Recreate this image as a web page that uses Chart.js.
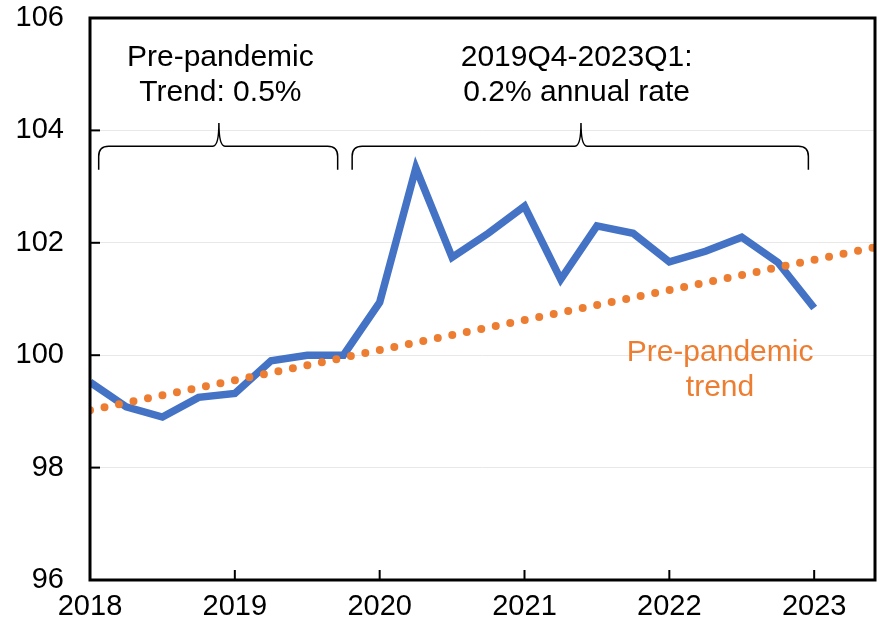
<!DOCTYPE html>
<html>
<head>
<meta charset="utf-8">
<script src="https://cdn.jsdelivr.net/npm/chart.js@4.4.1/dist/chart.umd.min.js"></script>
<style>
    body { margin: 0; background: #ffffff; }
    #wrap { width: 881px; height: 620px; }
</style>
</head>
<body>
<div id="wrap"><canvas id="wageChart" width="881" height="620"></canvas></div>
<script>
// Datos
const quarters = [2018.00, 2018.25, 2018.50, 2018.75, 2019.00, 2019.25, 2019.50, 2019.75,
                  2020.00, 2020.25, 2020.50, 2020.75, 2021.00, 2021.25, 2021.50, 2021.75,
                  2022.00, 2022.25, 2022.50, 2022.75, 2023.00];
const wageIndex = [99.52, 99.08, 98.90, 99.25, 99.32, 99.90, 100.00, 100.00,
                   100.94, 103.33, 101.74, 102.17, 102.65, 101.35, 102.30, 102.17,
                   101.66, 101.85, 102.10, 101.65, 100.84];
const trendX = [2018.00, 2023.42];
const trendY = [99.02, 101.92];
const xTicks = [2018, 2019, 2020, 2021, 2022, 2023];
const yTicks = [96, 98, 100, 102, 104, 106];

const FONT = "'Liberation Sans', Arial, sans-serif";
const BLUE = '#4472C4';
const ORANGE = '#ED7D31';

// Textos y llaves (posiciones en unidades de los ejes)
const notes = [
    { lines: ['Pre-pandemic', 'Trend: 0.5%'], x: 2018.90, y: 105.29, color: '#000000' },
    { lines: ['2019Q4-2023Q1:', '0.2% annual rate'], x: 2021.36, y: 105.29, color: '#000000' },
    { lines: ['Pre-pandemic', 'trend'], x: 2022.35, y: 100.05, color: ORANGE }
];
const braces = [
    { from: 2018.06, to: 2019.71, mid: 2018.89 },
    { from: 2019.81, to: 2022.96, mid: 2021.39 }
];

document.addEventListener('DOMContentLoaded', function() {

    // Marco, marcas interiores, llaves y textos
    const extras = {
        id: 'extras',
        afterDatasetsDraw(chart) {
            const ctx = chart.ctx;
            const area = chart.chartArea;
            const xs = chart.scales.x;
            const ys = chart.scales.y;
            ctx.save();

            // marco
            ctx.strokeStyle = '#000000';
            ctx.lineWidth = 3;
            ctx.strokeRect(area.left, area.top, area.right - area.left, area.bottom - area.top);

            // marcas hacia dentro
            ctx.lineWidth = 2;
            xTicks.forEach(v => {
                const px = xs.getPixelForValue(v);
                ctx.beginPath();
                ctx.moveTo(px, area.bottom);
                ctx.lineTo(px, area.bottom - 10);
                ctx.stroke();
            });
            yTicks.forEach(v => {
                const py = ys.getPixelForValue(v);
                ctx.beginPath();
                ctx.moveTo(area.left, py);
                ctx.lineTo(area.left + 10, py);
                ctx.stroke();
            });

            // llaves
            ctx.lineWidth = 1.5;
            const yEnd = ys.getPixelForValue(103.30);
            const yBar = ys.getPixelForValue(103.72);
            const yTip = ys.getPixelForValue(104.13);
            braces.forEach(b => {
                const x0 = xs.getPixelForValue(b.from);
                const x1 = xs.getPixelForValue(b.to);
                const xm = xs.getPixelForValue(b.mid);
                ctx.beginPath();
                ctx.moveTo(x0, yEnd);
                ctx.lineTo(x0, yBar + 10);
                ctx.quadraticCurveTo(x0, yBar, x0 + 10, yBar);
                ctx.lineTo(xm - 6, yBar);
                ctx.quadraticCurveTo(xm, yBar, xm, yTip);
                ctx.quadraticCurveTo(xm, yBar, xm + 6, yBar);
                ctx.lineTo(x1 - 10, yBar);
                ctx.quadraticCurveTo(x1, yBar, x1, yBar + 10);
                ctx.lineTo(x1, yEnd);
                ctx.stroke();
            });

            // textos
            ctx.font = '30px ' + FONT;
            ctx.textAlign = 'center';
            ctx.textBaseline = 'middle';
            notes.forEach(n => {
                ctx.fillStyle = n.color;
                const px = xs.getPixelForValue(n.x);
                const py = ys.getPixelForValue(n.y);
                n.lines.forEach((line, i) => {
                    ctx.fillText(line, px, py + i * 35);
                });
            });

            ctx.restore();
        }
    };

    const ctx = document.getElementById('wageChart');
    new Chart(ctx.getContext('2d'), {
        type: 'line',
        data: {
            datasets: [
                {
                    label: 'Trend',
                    data: trendX.map((x, i) => ({ x: x, y: trendY[i] })),
                    borderColor: ORANGE,
                    borderWidth: 8,
                    borderDash: [0, 14.8],
                    borderCapStyle: 'round',
                    pointRadius: 0,
                    tension: 0
                },
                {
                    label: 'Index',
                    data: quarters.map((x, i) => ({ x: x, y: wageIndex[i] })),
                    borderColor: BLUE,
                    borderWidth: 7.5,
                    borderJoinStyle: 'miter',
                    pointRadius: 0,
                    tension: 0
                }
            ]
        },
        options: {
            responsive: false,
            animation: false,
            layout: { padding: { left: 0, top: 18, right: 6, bottom: 0 } },
            plugins: {
                legend: { display: false },
                tooltip: { enabled: false }
            },
            scales: {
                x: {
                    type: 'linear',
                    min: 2018,
                    max: 2023.42,
                    afterBuildTicks: scale => { scale.ticks = xTicks.map(v => ({ value: v })); },
                    afterFit: scale => {
                        scale.height = 40;
                        scale.paddingLeft = 0;
                        scale.paddingRight = 0;
                    },
                    grid: { display: false, drawTicks: false },
                    border: { display: false },
                    ticks: {
                        autoSkip: false,
                        maxRotation: 0,
                        padding: 10,
                        color: '#000000',
                        font: { family: FONT, size: 29 },
                        callback: v => String(v)
                    }
                },
                y: {
                    min: 96,
                    max: 106,
                    afterBuildTicks: scale => { scale.ticks = yTicks.map(v => ({ value: v })); },
                    afterFit: scale => {
                        scale.width = 90;
                        scale.paddingTop = 0;
                        scale.paddingBottom = 0;
                    },
                    grid: { color: '#e8e8e8', lineWidth: 1, drawTicks: false },
                    border: { display: false },
                    ticks: {
                        padding: 26,
                        color: '#000000',
                        font: { family: FONT, size: 29 },
                        callback: v => String(v)
                    }
                }
            }
        },
        plugins: [extras]
    });
});
</script>
</body>
</html>
